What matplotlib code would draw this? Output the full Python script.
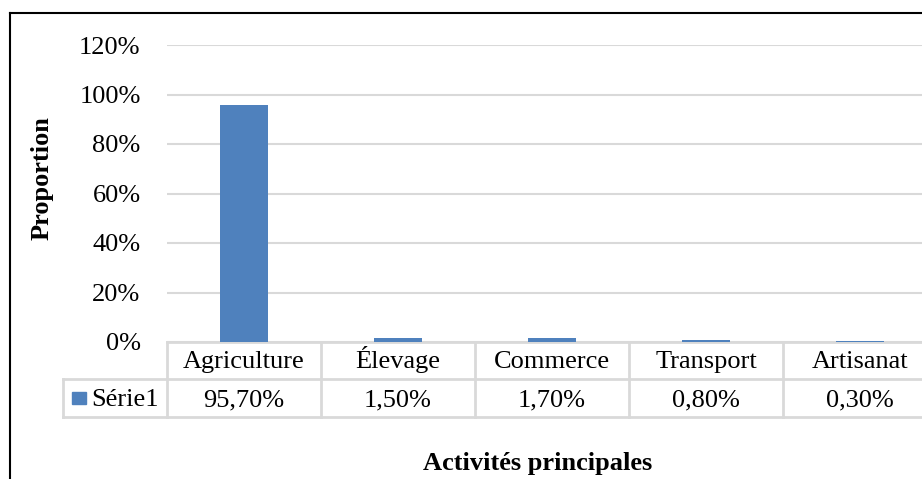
import matplotlib
matplotlib.use("Agg")
import matplotlib.pyplot as plt
from matplotlib.lines import Line2D
from matplotlib.patches import Rectangle
import matplotlib.transforms as mtrans
import numpy as np

categories = ["Agriculture", "Élevage", "Commerce", "Transport", "Artisanat"]
values = [95.7, 1.5, 1.7, 0.8, 0.3]  # percent
series_name = "Série1"
yticks = [0, 20, 40, 60, 80, 100, 120]
ylabel = "Proportion"
xlabel = "Activités principales"

W, H = 922, 479
plt.rcParams['font.family'] = ['Liberation Serif', 'DejaVu Serif']
FS = 19
BLUE = "#4f81bd"
GRID = "#d9d9d9"

fig = plt.figure(figsize=(W / 100, H / 100), dpi=100)

def fx(x):
    return x / W

def fy(y):
    return 1 - y / H

ax_l, ax_r, ax_t, ax_b = 167, 937, 45, 342
ax = fig.add_axes([fx(ax_l), fy(ax_b), (ax_r - ax_l) / W, (ax_b - ax_t) / H])
x = np.arange(len(categories))
ax.bar(x, values, width=0.31, color=BLUE, zorder=3)
ax.set_xlim(-0.5, len(categories) - 0.5)
ax.set_ylim(0, 120)
ax.set_yticks(yticks)
ax.set_yticklabels([f"{t}%" for t in yticks], fontsize=FS)
ax.tick_params(axis='y', length=0, pad=19)
ax.set_xticks([])
ax.grid(axis='y', color=GRID, linewidth=1.5, zorder=0)
for s in ax.spines.values():
    s.set_visible(False)

# Table below the axis
tr = mtrans.blended_transform_factory(ax.transData, fig.transFigure)
y0, y1, y2 = fy(342), fy(379), fy(417)
xl, xr = -0.5, len(categories) - 0.5
lk = dict(color=GRID, linewidth=2, clip_on=False)
ax.add_line(Line2D([xl, xr], [y0, y0], transform=tr, **lk))
for yy in (y1, y2):
    ax.add_line(Line2D([fx(63), fx(ax_l)], [yy, yy], transform=fig.transFigure, **lk))
    ax.add_line(Line2D([xl, xr], [yy, yy], transform=tr, **lk))
ax.add_line(Line2D([fx(63), fx(63)], [y1, y2], transform=fig.transFigure, **lk))
for i in range(len(categories) + 1):
    xv = i - 0.5
    ax.add_line(Line2D([xv, xv], [y0, y2], transform=tr, **lk))

base1 = fy(368)
base2 = fy(406)
for i, (c, v) in enumerate(zip(categories, values)):
    ax.text(i, base1, c, transform=tr, ha='center', va='baseline', fontsize=FS)
    ax.text(i, base2, f"{v:.2f}%".replace('.', ','), transform=tr,
            ha='center', va='baseline', fontsize=FS)

# legend key
fig.patches.append(Rectangle((fx(72), fy(404)), 14 / W, 12 / H,
                             transform=fig.transFigure, color=BLUE))
fig.text(fx(91), base2, series_name, ha='left', va='baseline', fontsize=FS)

# axis titles
fig.text(fx(42), fy(178), ylabel, rotation=90, ha='center',
         va='center', fontsize=FS, fontweight='bold')
fig.text(fx(538), fy(470), xlabel, ha='center', va='baseline', fontsize=FS,
         fontweight='bold')

# outer chart frame
fig.add_artist(Line2D([fx(9.5), fx(9.5)], [fy(13), 0], color='black', linewidth=1.5,
                      transform=fig.transFigure))
fig.add_artist(Line2D([fx(9.5), 1], [fy(13), fy(13)], color='black', linewidth=1.5,
                      transform=fig.transFigure))

fig.savefig("out.png", dpi=100)
